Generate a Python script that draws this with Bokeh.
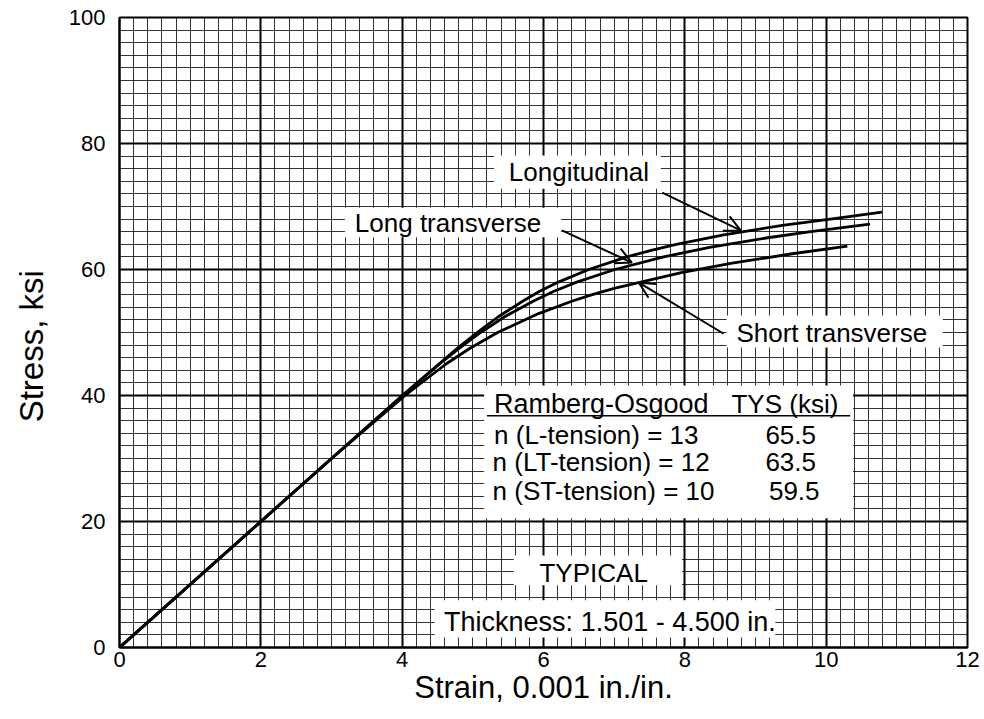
from bokeh.plotting import figure
from bokeh.models import (Range1d, SingleIntervalTicker, Label, BoxAnnotation,
                          Arrow, OpenHead)
from bokeh.embed import file_html
from bokeh.resources import INLINE

# ---- data ----
long_strain = [0, 3.0, 4.0, 4.52, 4.78, 5.06, 5.36, 5.71, 5.94, 6.21, 6.64, 7.18, 7.51, 7.88, 8.55, 9.38, 10.06, 10.79]
long_stress = [0, 30, 40, 45, 47.5, 50, 52.5, 55, 56.5, 58, 60, 62, 63, 64, 65.5, 67, 68, 69.1]

lt_strain = [0, 3.0, 4.01, 4.53, 4.81, 5.11, 5.45, 5.86, 6.14, 6.47, 7.01, 7.70, 8.35, 9.15, 9.78, 10.62]
lt_stress = [0, 30, 40, 45, 47.5, 50, 52.5, 55, 56.5, 58, 60, 62, 63.5, 65, 66, 67.2]

st_strain = [0, 3.0, 4.04, 4.62, 4.96, 5.35, 5.93, 6.41, 6.69, 7.00, 7.95, 8.67, 9.52, 10.30]
st_stress = [0, 30, 40, 45, 47.5, 50, 53, 55, 56, 57, 59.5, 61, 62.5, 63.7]

table_rows = ["n (L-tension) = 13", "n (LT-tension) = 12", "n (ST-tension) = 10"]
table_tys = ["65.5", "63.5", "59.5"]

FONT = "Liberation Sans"

p = figure(width=980, height=716, output_backend="svg", toolbar_location=None,
           x_range=Range1d(0, 12), y_range=Range1d(0, 100),
           min_border_left=119, min_border_top=17, min_border_right=13, min_border_bottom=69)

p.xaxis.ticker = SingleIntervalTicker(interval=2, num_minor_ticks=10)
p.yaxis.ticker = SingleIntervalTicker(interval=20, num_minor_ticks=10)
p.xgrid.ticker = p.xaxis.ticker
p.ygrid.ticker = p.yaxis.ticker

for g in (p.xgrid, p.ygrid):
    g.grid_line_color = "black"
    g.grid_line_width = 2
    g.grid_line_alpha = 1
    g.minor_grid_line_color = "black"
    g.minor_grid_line_width = 1
    g.minor_grid_line_alpha = 0.8

p.outline_line_color = "black"
p.outline_line_width = 2
p.background_fill_color = "white"

for ax in (p.xaxis, p.yaxis):
    ax.axis_line_color = "black"
    ax.axis_line_width = 2
    ax.major_tick_out = 0
    ax.major_tick_in = 0
    ax.minor_tick_out = 0
    ax.minor_tick_in = 0
    ax.major_label_text_font = FONT
    ax.major_label_text_font_size = "22px"
    ax.major_label_text_color = "black"
    ax.axis_label_text_font = FONT
    ax.axis_label_text_font_style = "normal"
    ax.axis_label_text_color = "black"

p.xaxis.axis_label = "Strain, 0.001 in./in."
p.xaxis.axis_label_text_font_size = "31px"
p.xaxis.major_label_standoff = 4
p.xaxis.axis_label_standoff = 0

# trailing no-break spaces nudge the centred title slightly below the frame centre
p.yaxis.axis_label = "Stress, ksi\u00a0\u00a0\u00a0"
p.yaxis.axis_label_text_font_size = "33px"
p.yaxis.major_label_standoff = 14
p.yaxis.axis_label_standoff = 16

# curves
for xs, ys in ((long_strain, long_stress), (lt_strain, lt_stress), (st_strain, st_stress)):
    p.line(xs, ys, line_color="black", line_width=2.8, line_join="round")

# white label boxes
def box(l, r, t, b):
    p.add_layout(BoxAnnotation(left=l, right=r, top=t, bottom=b, fill_color="white",
                               fill_alpha=1, line_alpha=0, level="overlay"))

box(5.30, 7.66, 78.1, 72.8)     # Longitudinal
box(3.19, 6.25, 69.8, 65.1)     # Long transverse
box(8.59, 11.65, 52.7, 47.6)    # Short transverse
box(5.16, 10.38, 41.6, 20.5)    # table
box(5.58, 7.96, 14.6, 9.9)      # TYPICAL
box(4.46, 9.28, 7.5, 1.6)       # thickness

def lab(x, y, text, align="left", size="26px"):
    p.add_layout(Label(x=x, y=y, text=text, text_align=align, text_baseline="middle",
                       text_font=FONT, text_font_size=size, text_color="black",
                       level="overlay"))

lab(5.51, 75.4, "Longitudinal")
lab(3.33, 67.4, "Long transverse")
lab(8.73, 50.0, "Short transverse")
lab(5.30, 38.7, "Ramberg-Osgood", size="27px")
lab(8.66, 38.7, "TYS (ksi)")
row_y = [33.7, 29.4, 24.9]
row_x = [5.30, 5.28, 5.28]
val_x = [9.14, 9.14, 9.19]
for t, v, yy, xx, vx in zip(table_rows, table_tys, row_y, row_x, val_x):
    lab(xx, yy, t)
    lab(vx, yy, v)
lab(6.71, 11.8, "TYPICAL", align="center")
lab(6.94, 4.0, "Thickness: 1.501 - 4.500 in.", align="center", size="27px")

# underline of table header
p.add_layout(Arrow(x_start=5.20, y_start=36.8, x_end=10.34, y_end=36.8, end=None,
                   line_color="black", line_width=1.5, level="overlay"))

# arrows
for xs_, ys_, xe, ye in ((7.68, 72.2, 8.79, 66.2),
                         (6.26, 66.2, 7.25, 61.1),
                         (8.55, 49.8, 7.35, 57.9)):
    p.add_layout(Arrow(x_start=xs_, y_start=ys_, x_end=xe, y_end=ye,
                       end=OpenHead(size=16, line_width=2, line_color="black"),
                       line_color="black", line_width=2, level="overlay"))

open("out.html", "w").write(file_html(p, INLINE))
